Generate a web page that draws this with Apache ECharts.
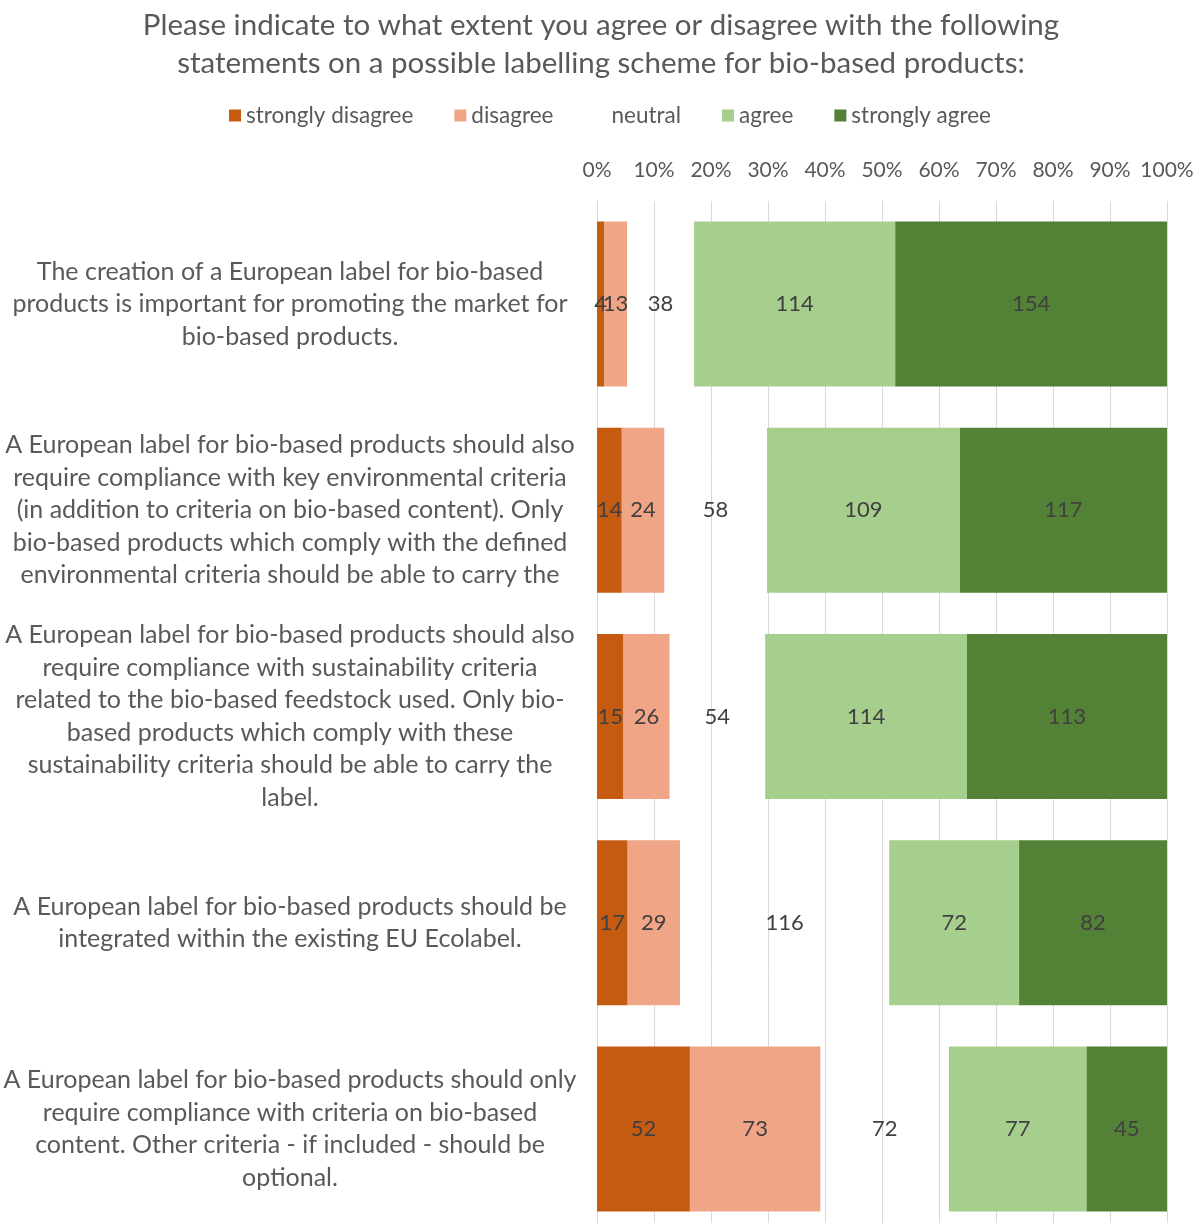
<!DOCTYPE html>
<html>
<head>
<meta charset="utf-8">
<script src="https://cdn.jsdelivr.net/npm/echarts@6/dist/echarts.min.js"></script>
<style>
  html, body { margin: 0; padding: 0; background: #ffffff; }
  #chart { width: 1202px; height: 1223px; }
</style>
</head>
<body>
<div id="chart"></div>
<script>
// Statements (wrapped as they appear beside each bar)
const categories = [
  'The creation of a European label for bio-based\nproducts is important for promoting the market for\nbio-based products.',
  'A European label for bio-based products should also\nrequire compliance with key environmental criteria\n(in addition to criteria on bio-based content). Only\nbio-based products which comply with the defined\nenvironmental criteria should be able to carry the',
  'A European label for bio-based products should also\nrequire compliance with sustainability criteria\nrelated to the bio-based feedstock used. Only bio-\nbased products which comply with these\nsustainability criteria should be able to carry the\nlabel.',
  'A European label for bio-based products should be\nintegrated within the existing EU Ecolabel.',
  'A European label for bio-based products should only\nrequire compliance with criteria on bio-based\ncontent. Other criteria - if included - should be\noptional.'
];

// Response counts per statement
const stronglyDisagree = [4, 14, 15, 17, 52];
const disagree = [13, 24, 26, 29, 73];
const neutral = [38, 58, 54, 116, 72];
const agree = [114, 109, 114, 72, 77];
const stronglyAgree = [154, 117, 113, 82, 45];

const seriesNames = ['strongly disagree', 'disagree', 'neutral', 'agree', 'strongly agree'];
const seriesCounts = [stronglyDisagree, disagree, neutral, agree, stronglyAgree];
const seriesColors = ['#C55A11', '#F0A586', 'rgba(0,0,0,0)', '#A6CE8D', '#538135'];

const tickLabels = ['0%', '10%', '20%', '30%', '40%', '50%', '60%', '70%', '80%', '90%', '100%'];

// Row totals for the 100% stacking
const totals = categories.map((_, i) =>
  seriesCounts.reduce((s, arr) => s + arr[i], 0));

const font = 'Lato, "Open Sans", sans-serif';

const chart = echarts.init(document.getElementById('chart'), null, { renderer: 'canvas' });

chart.setOption({
  animation: false,
  backgroundColor: '#ffffff',
  textStyle: { fontFamily: font },
  title: {
    text: 'Please indicate to what extent you agree or disagree with the following\nstatements on a possible labelling scheme for bio-based products:',
    left: 'center',
    top: 1,
    padding: [5, 0, 5, 8],
    textStyle: {
      fontFamily: font,
      fontSize: 29.5,
      fontWeight: 'normal',
      color: '#595959',
      lineHeight: 38
    }
  },
  legend: {
    top: 99,
    left: 224,
    itemWidth: 12,
    itemHeight: 12,
    itemGap: 41,
    icon: 'rect',
    data: seriesNames,
    textStyle: { fontFamily: font, fontSize: 22.5, color: '#595959' }
  },
  grid: {
    left: 597,
    right: 35,
    top: 201,
    height: 1031,
    outerBoundsMode: 'none',
    containLabel: false
  },
  xAxis: {
    type: 'value',
    position: 'top',
    min: 0,
    max: 100,
    interval: 10,
    axisLine: { show: false },
    axisTick: { show: false },
    axisLabel: {
      margin: 20,
      fontFamily: font,
      fontSize: 21,
      color: '#595959',
      formatter: (v) => tickLabels[Math.round(v / 10)]
    },
    splitLine: { show: true, lineStyle: { color: '#D9D9D9', width: 1 } }
  },
  yAxis: {
    type: 'category',
    inverse: true,
    data: categories,
    axisLine: { show: false },
    axisTick: { show: false },
    axisLabel: {
      margin: 307,
      align: 'center',
      fontFamily: font,
      fontSize: 25,
      lineHeight: 32.5,
      color: '#595959'
    }
  },
  series: seriesNames.map((name, k) => ({
    name: name,
    type: 'bar',
    stack: 'total',
    barCategoryGap: '20%',
    itemStyle: { color: seriesColors[k] },
    label: {
      show: true,
      position: 'inside',
      fontFamily: font,
      fontSize: 22,
      color: '#404040',
      formatter: (p) => String(p.data.count)
    },
    emphasis: { disabled: true },
    data: seriesCounts[k].map((c, i) => ({ value: c / totals[i] * 100, count: c }))
  }))
});
</script>
</body>
</html>
